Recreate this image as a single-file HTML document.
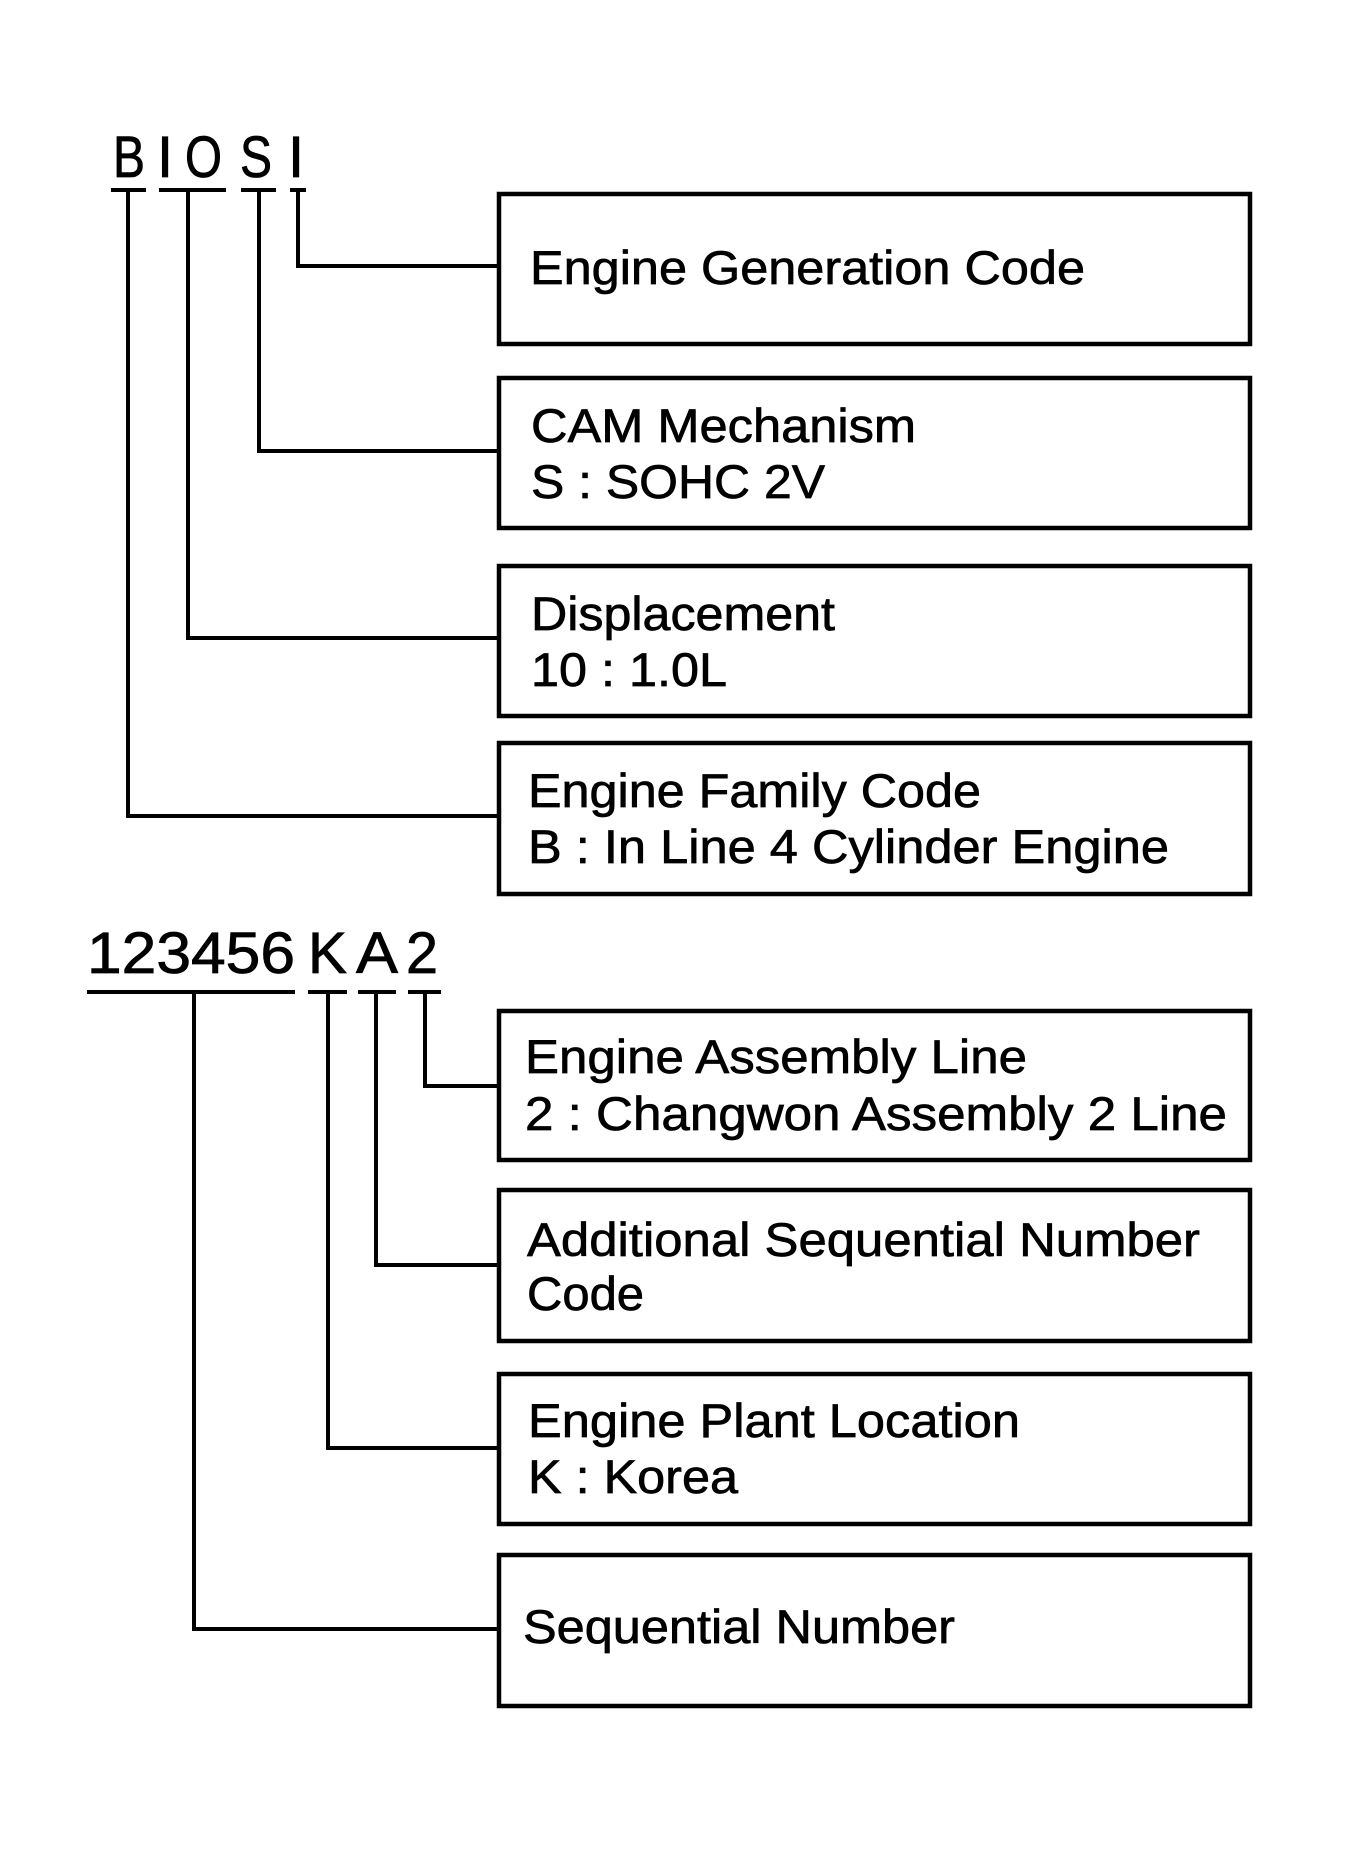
<!DOCTYPE html>
<html><head><meta charset="utf-8"><style>
html,body{margin:0;padding:0;background:#fff}
svg{display:block}
text{font-family:"Liberation Sans",Arial,sans-serif;fill:#000}
</style></head><body>
<svg width="1354" height="1866" viewBox="0 0 1354 1866" xmlns="http://www.w3.org/2000/svg">
<g font-size="58" stroke="#000" stroke-width="0.8">
<text x="113" y="177" textLength="32" lengthAdjust="spacingAndGlyphs">B</text>
<text x="165" y="177" text-anchor="middle">I</text>
<text x="185" y="177" textLength="37" lengthAdjust="spacingAndGlyphs">O</text>
<text x="240" y="177" textLength="32" lengthAdjust="spacingAndGlyphs">S</text>
<text x="296" y="177" text-anchor="middle">I</text>
<text x="87" y="973" textLength="208" lengthAdjust="spacingAndGlyphs">123456</text>
<text x="308" y="973" textLength="39" lengthAdjust="spacingAndGlyphs">K</text>
<text x="356" y="973" textLength="42" lengthAdjust="spacingAndGlyphs">A</text>
<text x="406" y="973" textLength="32" lengthAdjust="spacingAndGlyphs">2</text>
</g>
<g stroke="#000" stroke-width="4" fill="none">
<path d="M111 190H146M159 190H226M241 190H276M290 190H306"/>
<path d="M128 190V816H499M188 190V638H499M259 190V451H499M298 190V266H499"/>
<path d="M87 992H295M308 992H347M358 992H396M408 992H441"/>
<path d="M194 992V1629H499M328 992V1448H499M376 992V1265H499M425 992V1086H499"/>
</g>
<g stroke="#000" stroke-width="4.5" fill="none">
<rect x="499" y="194" width="751" height="150"/>
<rect x="499" y="378" width="751" height="150"/>
<rect x="499" y="566" width="751" height="150"/>
<rect x="499" y="743" width="751" height="151"/>
<rect x="499" y="1011" width="751" height="149"/>
<rect x="499" y="1190" width="751" height="151"/>
<rect x="499" y="1374" width="751" height="150"/>
<rect x="499" y="1555" width="751" height="151"/>
</g>
<g font-size="47" stroke="#000" stroke-width="0.7">
<text x="530" y="284" textLength="555" lengthAdjust="spacingAndGlyphs">Engine Generation Code</text>
<text x="531" y="442" textLength="385" lengthAdjust="spacingAndGlyphs">CAM Mechanism</text>
<text x="531" y="498" textLength="294" lengthAdjust="spacingAndGlyphs">S : SOHC 2V</text>
<text x="531" y="630" textLength="304" lengthAdjust="spacingAndGlyphs">Displacement</text>
<text x="531" y="686" textLength="196" lengthAdjust="spacingAndGlyphs">10 : 1.0L</text>
<text x="528" y="807" textLength="453" lengthAdjust="spacingAndGlyphs">Engine Family Code</text>
<text x="528" y="863" textLength="641" lengthAdjust="spacingAndGlyphs">B : In Line 4 Cylinder Engine</text>
<text x="525" y="1073" textLength="502" lengthAdjust="spacingAndGlyphs">Engine Assembly Line</text>
<text x="525" y="1130" textLength="702" lengthAdjust="spacingAndGlyphs">2 : Changwon Assembly 2 Line</text>
<text x="527" y="1256" textLength="673" lengthAdjust="spacingAndGlyphs">Additional Sequential Number</text>
<text x="527" y="1310" textLength="117" lengthAdjust="spacingAndGlyphs">Code</text>
<text x="528" y="1437" textLength="492" lengthAdjust="spacingAndGlyphs">Engine Plant Location</text>
<text x="528" y="1493" textLength="210" lengthAdjust="spacingAndGlyphs">K : Korea</text>
<text x="523" y="1643" textLength="432" lengthAdjust="spacingAndGlyphs">Sequential Number</text>
</g>
</svg>
</body></html>
